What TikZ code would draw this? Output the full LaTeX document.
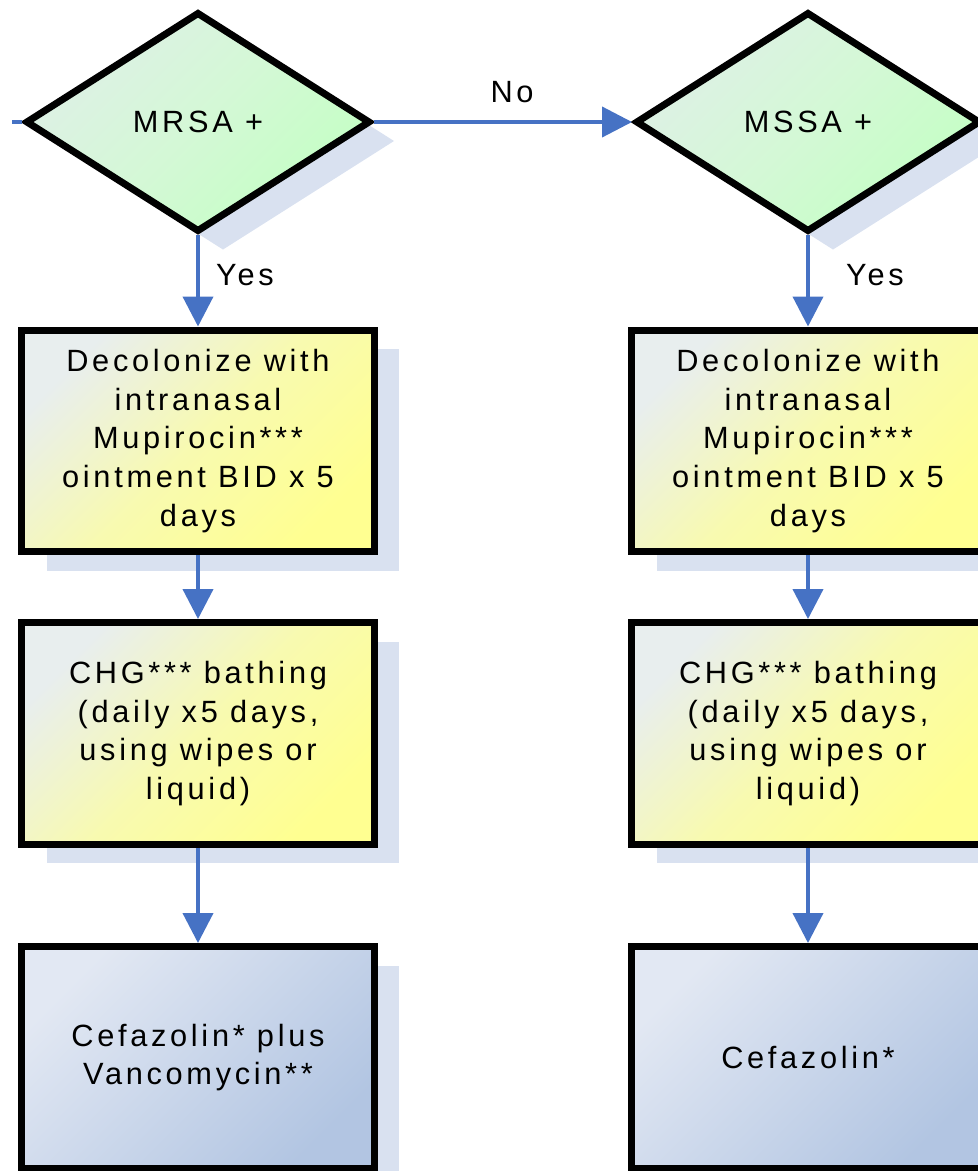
\documentclass[tikz,border=0pt]{standalone}
\usepackage{fontspec}
\setmainfont{Liberation Sans}[LetterSpace=12]
\usetikzlibrary{shapes.geometric,shadows,arrows.meta,positioning}

\definecolor{diamA}{RGB}{222,240,230}
\definecolor{diamM}{RGB}{212,248,214}
\definecolor{diamB}{RGB}{196,255,196}
\definecolor{yelA}{RGB}{232,238,238}
\definecolor{yelM}{RGB}{248,250,176}
\definecolor{yelB}{RGB}{255,255,145}
\definecolor{bluA}{RGB}{226,232,243}
\definecolor{bluB}{RGB}{178,197,226}
\definecolor{shadowc}{RGB}{217,225,240}
\definecolor{arrowc}{RGB}{70,114,196}

\begin{document}
\begin{tikzpicture}[x=0.02cm,y=-0.02cm,
    every node/.style={font=\fontsize{17.5}{22}\selectfont},
    shadowed/.style={drop shadow={shadow xshift=0.5cm, shadow yshift=-0.38cm, fill=shadowc, opacity=1}},
    decision/.style={diamond, draw, line width=0.14cm, minimum width=6.9cm, minimum height=4.4cm,
        inner sep=0pt, top color=diamA, bottom color=diamB, middle color=diamM, shading angle=45, shadowed},
    stepbox/.style={rectangle, draw, line width=0.14cm, minimum width=7.06cm, minimum height=4.44cm,
        align=center, inner sep=0pt, shadowed},
    yellowbox/.style={stepbox, top color=yelA, bottom color=yelB, middle color=yelM, shading angle=45},
    bluebox/.style={stepbox, top color=bluA, bottom color=bluB, shading angle=45},
    conn/.style={draw=arrowc, line width=0.08cm},
    arr/.style={conn, -{Triangle[length=0.6cm, width=0.6cm]}}]

    \useasboundingbox (0,0) rectangle (978,1171);
    \clip (0,0) rectangle (978,1171);

    %decisions
    \node[decision] (mrsa) at (198,122) {MRSA +};
    \node[decision] (mssa) at (808,122) {MSSA +};

    %MRSA branch
    \node[yellowbox] (decolL) at (198,441) {Decolonize with\\intranasal\\Mupirocin***\\ointment BID x 5\\days};
    \node[yellowbox] (chgL) at (198,733.5) {CHG*** bathing\\(daily x5 days,\\using wipes or\\liquid)};
    \node[bluebox] (cefL) at (198,1057.5) {Cefazolin* plus\\Vancomycin**};

    %MSSA branch
    \node[yellowbox] (decolR) at (808,441) {Decolonize with\\intranasal\\Mupirocin***\\ointment BID x 5\\days};
    \node[yellowbox] (chgR) at (808,733.5) {CHG*** bathing\\(daily x5 days,\\using wipes or\\liquid)};
    \node[bluebox] (cefR) at (808,1057.5) {Cefazolin*};

    %connectors
    \coordinate (in) at (12,122);
    \draw[conn] (in) -- (mrsa.west);
    \draw[arr] (mrsa.east) -- (mssa.west);
    \foreach \a/\b in {mrsa/decolL, decolL/chgL, chgL/cefL, mssa/decolR, decolR/chgR, chgR/cefR}
    {
        \draw[arr] (\a.south) -- (\b.north);
    }

    %labels
    \node (no) at (512,92) {No};
    \node (yesL) at (245,275) {Yes};
    \node (yesR) at (875,275) {Yes};

\end{tikzpicture}
\end{document}
